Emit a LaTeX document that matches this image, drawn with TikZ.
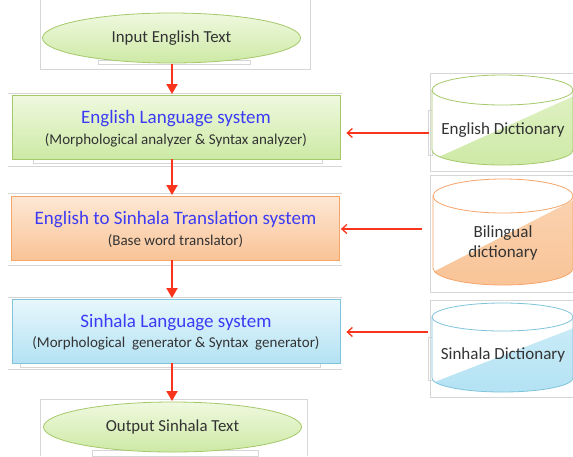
\documentclass[tikz,border=0pt]{standalone}
\usepackage{fontspec}
\setmainfont{Carlito}
\usetikzlibrary{arrows.meta,shapes.geometric,calc}
\definecolor{grB}{HTML}{A5C86A}
\definecolor{grT}{HTML}{EFF9DF}
\definecolor{grD}{HTML}{CDE9A5}
\definecolor{orB}{HTML}{F5A56A}
\definecolor{orT}{HTML}{FDE8D5}
\definecolor{orD}{HTML}{F9C396}
\definecolor{blB}{HTML}{7FC4DA}
\definecolor{blT}{HTML}{E8F7FC}
\definecolor{blD}{HTML}{B3E2F3}
\definecolor{ttl}{HTML}{3B3BF5}
\definecolor{txt}{HTML}{333333}
\definecolor{arr}{HTML}{F8341C}
\definecolor{frm}{HTML}{D6D6D6}
\begin{document}
\begin{tikzpicture}[x=1pt,y=-1pt,
  frame/.style={draw=frm,line width=0.6pt},
  procbox/.style={rectangle,minimum width=328pt,minimum height=64pt,line width=0.8pt,
    shading=axis,inner sep=0pt},
  term/.style={ellipse,minimum width=258pt,minimum height=50pt,draw=grB,line width=0.8pt,
    top color=grT,bottom color=grD,text=txt,font=\fontsize{16.8}{19}\selectfont},
  vflow/.style={draw=arr,line width=2pt,-{Triangle[length=10pt,width=11pt]}},
  hflow/.style={draw=arr,line width=1.3pt,-{Straight Barb[length=5pt,width=9pt]}},
  title/.style={font=\fontsize{19}{21}\selectfont,text=ttl,inner sep=0pt},
  sub/.style={font=\fontsize{15}{17}\selectfont,text=txt,inner sep=0pt},
  dbtext/.style={text=txt,font=\fontsize{17}{20}\selectfont,align=center}
]
\useasboundingbox[fill=white] (0,0) rectangle (573,456);

% ---- left column frames (faint) ----
\draw[frame] (40,0) -- (40,69) -- (310,69) -- (310,0);
\draw[frame] (98,60) rectangle (250,64);
\draw[frame] (8,93) -- (342,93);
\draw[frame] (8,166) -- (342,166);
\draw[frame] (33,159) rectangle (322,163);
\draw[frame] (8,193) -- (342,193);
\draw[frame] (8,265) -- (342,265);
\draw[frame] (8,297) -- (342,297);
\draw[frame] (8,369) -- (342,369);
\draw[frame] (20,363) rectangle (320,367);
\draw[frame] (40,456) -- (40,399) -- (307,399) -- (307,456);
\draw[frame] (92,450) rectangle (258,456);

% ---- terminals ----
\node[term] (in) at (171.5,38) {Input English Text};
\node[term] (out) at (172.5,427) {Output Sinhala Text};

% ---- process boxes ----
\node[procbox,draw=grB,top color=grT,bottom color=grD] (els) at (176,127) {};
\node[title] (elsT) at ($(els.center)+(0,-8)$) {English Language system};
\node[sub] (elsS) at ($(els.center)+(0,13.5)$) {(Morphological analyzer \& Syntax analyzer)};

\node[procbox,draw=orB,top color=orT,bottom color=orD] (ets) at (175.5,228) {};
\node[title] (etsT) at ($(ets.center)+(0,-8)$) {English to Sinhala Translation system};
\node[sub] (etsS) at ($(ets.center)+(0,13)$) {(Base word translator)};

\node[procbox,draw=blB,top color=blT,bottom color=blD] (sls) at (176,331) {};
\node[title] (slsT) at ($(sls.center)+(0,-8)$) {Sinhala Language system};
\node[sub] (slsS) at ($(sls.center)+(0,12.5)$) {(Morphological\ \ generator \& Syntax\ \ generator)};

% ---- vertical arrows ----
\coordinate (a1s) at (172,64);   \coordinate (a1e) at (172,94);
\coordinate (a2s) at (172,159);  \coordinate (a2e) at (172,195);
\coordinate (a3s) at (172,260);  \coordinate (a3e) at (172,298);
\coordinate (a4s) at (172,363);  \coordinate (a4e) at (172,401);
\draw[vflow] (a1s) -- (a1e);
\draw[vflow] (a2s) -- (a2e);
\draw[vflow] (a3s) -- (a3e);
\draw[vflow] (a4s) -- (a4e);

% ---- databases ----
% English Dictionary
\node[frame,rectangle,minimum width=146pt,minimum height=98pt,inner sep=0pt] (edf) at (503,122) {};
\draw[frame] (428,110) rectangle (432,155);
\begin{scope}
  \clip (432,90) -- (432,150) arc[start angle=180,end angle=0,x radius=70.5,y radius=15] -- (573,90) -- cycle;
  \fill[white] (432,70) rectangle (574,170);
  \shade[top color=grT!50!grD,bottom color=grD] (432,160) -- (574,96) -- (574,170) -- (432,170) -- cycle;
\end{scope}
\draw[grB,line width=0.8pt] (432,90) -- (432,150) arc[start angle=180,end angle=0,x radius=70.5,y radius=15] -- (573,90);
\draw[grB,line width=0.8pt,fill=white] (502.5,90) ellipse[x radius=70.5,y radius=15];
\node[dbtext] (ed) at (503,130) {English Dictionary};

% Bilingual dictionary
\node[frame,rectangle,minimum width=146pt,minimum height=117pt,inner sep=0pt] (bdf) at (503,233.5) {};
\begin{scope}
  \clip (433,196) -- (433,268) arc[start angle=180,end angle=0,x radius=70,y radius=17] -- (573,196) -- cycle;
  \fill[white] (433,175) rectangle (574,290);
  \shade[top color=orT!40!orD,bottom color=orD] (433,272) -- (574,200) -- (574,290) -- (433,290) -- cycle;
\end{scope}
\draw[orB,line width=0.8pt] (433,196) -- (433,268) arc[start angle=180,end angle=0,x radius=70,y radius=17] -- (573,196);
\draw[orB,line width=0.8pt,fill=white] (503,196) ellipse[x radius=70,y radius=17];
\node[dbtext] (bd) at (503,243) {Bilingual\\[0pt]dictionary};

% Sinhala Dictionary
\node[frame,rectangle,minimum width=146pt,minimum height=97pt,inner sep=0pt] (sdf) at (503,348.5) {};
\draw[frame] (428,337) rectangle (432,380);
\begin{scope}
  \clip (432,317) -- (432,378) arc[start angle=180,end angle=0,x radius=70.5,y radius=14] -- (573,317) -- cycle;
  \fill[white] (432,300) rectangle (574,395);
  \shade[top color=blT!40!blD,bottom color=blD] (432,383) -- (574,328) -- (574,395) -- (432,395) -- cycle;
\end{scope}
\draw[blB,line width=0.8pt] (432,317) -- (432,378) arc[start angle=180,end angle=0,x radius=70.5,y radius=14] -- (573,317);
\draw[blB,line width=0.8pt,fill=white] (502.5,317) ellipse[x radius=70.5,y radius=14];
\node[dbtext] (sd) at (503,355) {Sinhala Dictionary};

% ---- horizontal arrows ----
\coordinate (h1) at (429,133);
\coordinate (h2) at (422,229);
\coordinate (h3) at (428,332);
\draw[hflow] (h1) -- ($(h1 -| els.east)+(6,0)$);
\draw[hflow] (h2) -- ($(h2 -| ets.east)+(1,0)$);
\draw[hflow] (h3) -- ($(h3 -| sls.east)+(6,0)$);
\end{tikzpicture}
\end{document}
